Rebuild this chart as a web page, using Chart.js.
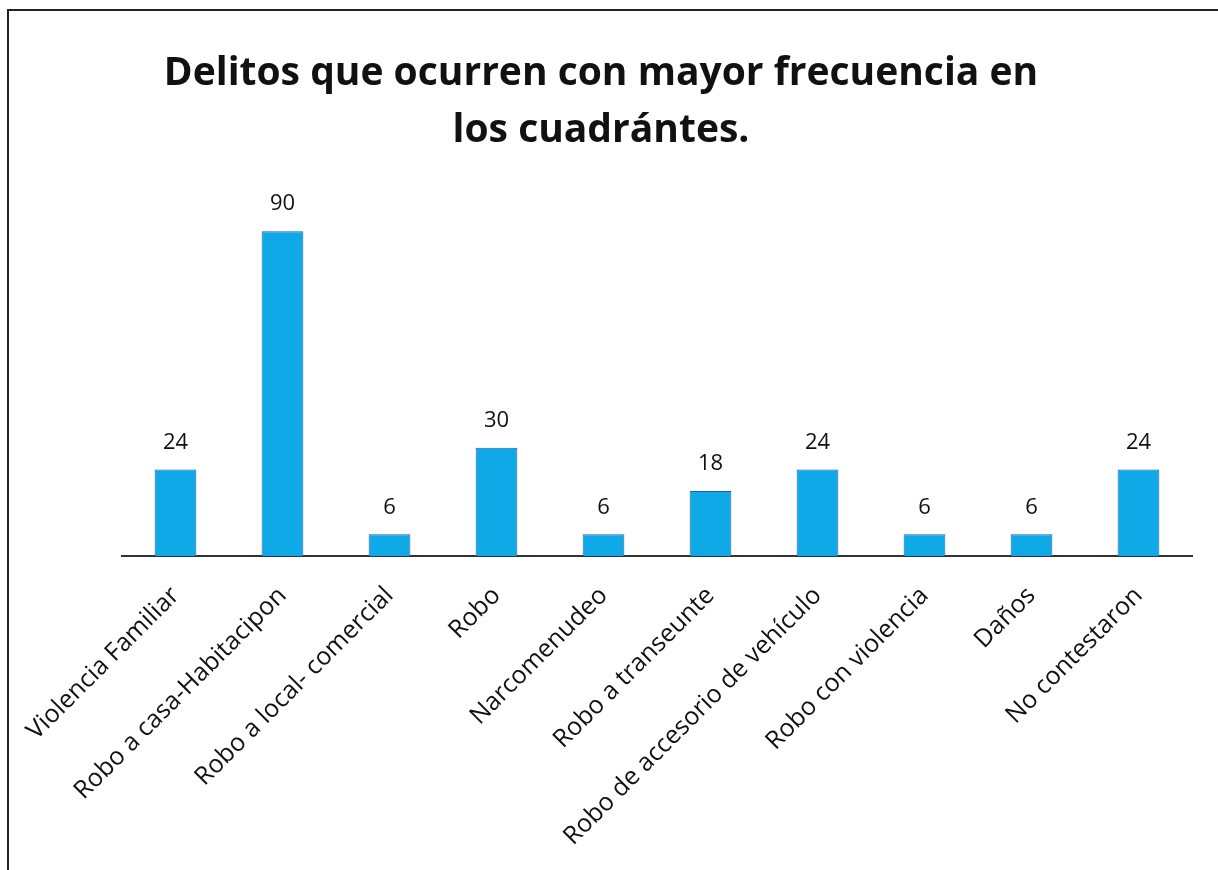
<!DOCTYPE html>
<html>
<head>
<meta charset="utf-8">
<script src="https://cdn.jsdelivr.net/npm/chart.js@4.4.0/dist/chart.umd.min.js"></script>
<style>
  html, body { margin: 0; padding: 0; background: #fff; }
  #frame { position: absolute; left: 7px; top: 9px; width: 1211px; height: 861px;
           border-top: 2px solid #222; border-left: 2px solid #222; box-sizing: border-box; }
  #wrap { position: absolute; left: 0; top: 0; width: 1218px; height: 870px; }
</style>
</head>
<body>
<div id="frame"></div>
<div id="wrap"><canvas id="chart"></canvas></div>
<script>
// Datos
const titleLines = ['Delitos que ocurren con mayor frecuencia en', 'los cuadrántes.'];
const categories = [
  'Violencia Familiar',
  'Robo a casa-Habitacipon',
  'Robo a local- comercial',
  'Robo',
  'Narcomenudeo',
  'Robo a transeunte',
  'Robo de accesorio de vehículo',
  'Robo con violencia',
  'Daños',
  'No contestaron'
];
const values = [24, 90, 6, 30, 6, 18, 24, 6, 6, 24];

// etiquetas de valor encima de cada barra
const valueLabels = {
  id: 'valueLabels',
  afterDatasetsDraw(chart) {
    const ctx = chart.ctx;
    const meta = chart.getDatasetMeta(0);
    ctx.save();
    ctx.fillStyle = '#111';
    ctx.font = '22px "Open Sans"';
    ctx.textAlign = 'center';
    ctx.textBaseline = 'bottom';
    meta.data.forEach((bar, i) => {
      ctx.fillText(values[i], bar.x, bar.y - 16);
    });
    ctx.restore();
  }
};

new Chart(document.getElementById('chart'), {
  type: 'bar',
  data: {
    labels: categories,
    datasets: [{
      data: values,
      backgroundColor: '#0ea9e6',
      borderColor: '#1a5fb0',
      borderWidth: 1,
      categoryPercentage: 1,
      barPercentage: 0.39
    }]
  },
  options: {
    responsive: true,
    maintainAspectRatio: false,
    animation: false,
    layout: { padding: { left: 10, right: 26, top: 0, bottom: 0 } },
    plugins: {
      legend: { display: false },
      tooltip: { enabled: false },
      title: {
        display: true,
        text: titleLines,
        color: '#111',
        font: { family: 'Open Sans', size: 39, weight: 'bold', lineHeight: 1.45 },
        padding: { top: 46, bottom: 36 }
      }
    },
    scales: {
      x: {
        grid: { display: false },
        border: { display: true, color: '#333', width: 2 },
        afterFit(scale) { scale.height = 314; },
        ticks: {
          color: '#111',
          font: { family: 'Open Sans', size: 25 },
          minRotation: 45,
          maxRotation: 45,
          padding: 17
        }
      },
      y: {
        min: 0,
        max: 100,
        grid: { display: false },
        border: { display: false },
        ticks: { display: false },
        afterFit(scale) { scale.width = 112; }
      }
    }
  },
  plugins: [valueLabels]
});
</script>
</body>
</html>
